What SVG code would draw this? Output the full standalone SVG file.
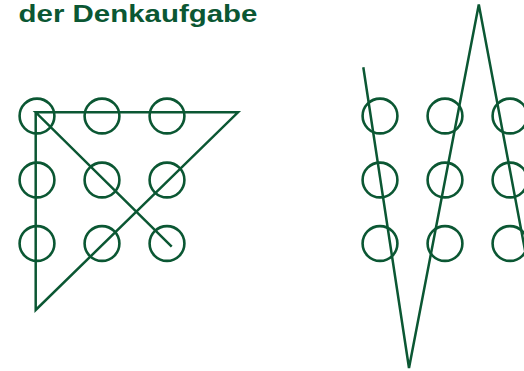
<svg xmlns="http://www.w3.org/2000/svg" width="524" height="371" viewBox="0 0 524 371">
  <style>
    .dot { fill: none; stroke: #0b5733; stroke-width: 2.6; }
    .line { fill: none; stroke: #0b5733; stroke-width: 2.5; stroke-linejoin: miter; stroke-linecap: butt; }
    .title { font-family: "Liberation Sans", Arial, sans-serif; font-weight: bold; font-size: 24.5px; fill: #0b5733; }
  </style>
  <rect width="524" height="371" fill="#ffffff"/>
  <text class="title" x="18.5" y="22.3" textLength="239" lengthAdjust="spacingAndGlyphs">der Denkaufgabe</text>

  <g id="left-puzzle">
    <g id="L11"><circle class="dot" cx="37" cy="116" r="17.4"/></g>
    <g id="L12"><circle class="dot" cx="102" cy="116" r="17.4"/></g>
    <g id="L13"><circle class="dot" cx="167" cy="116" r="17.4"/></g>
    <g id="L21"><circle class="dot" cx="37" cy="180" r="17.4"/></g>
    <g id="L22"><circle class="dot" cx="102" cy="180" r="17.4"/></g>
    <g id="L23"><circle class="dot" cx="167" cy="180" r="17.4"/></g>
    <g id="L31"><circle class="dot" cx="37" cy="243.5" r="17.4"/></g>
    <g id="L32"><circle class="dot" cx="102" cy="243.5" r="17.4"/></g>
    <g id="L33"><circle class="dot" cx="167" cy="243.5" r="17.4"/></g>
  </g>

  <g id="right-puzzle">
    <g id="R11"><circle class="dot" cx="380" cy="116" r="17.4"/></g>
    <g id="R12"><circle class="dot" cx="445" cy="116" r="17.4"/></g>
    <g id="R13"><circle class="dot" cx="510" cy="116" r="17.4"/></g>
    <g id="R21"><circle class="dot" cx="380" cy="180" r="17.4"/></g>
    <g id="R22"><circle class="dot" cx="445" cy="180" r="17.4"/></g>
    <g id="R23"><circle class="dot" cx="510" cy="180" r="17.4"/></g>
    <g id="R31"><circle class="dot" cx="380" cy="243.5" r="17.4"/></g>
    <g id="R32"><circle class="dot" cx="445" cy="243.5" r="17.4"/></g>
    <g id="R33"><circle class="dot" cx="510" cy="243.5" r="17.4"/></g>
  </g>

  <g id="connectors">
    <path class="line" d="M171.7,246.7 L35.7,112.3 L238,112.3 L35.7,310 L35.7,112.3"/>
    <path class="line" d="M363.3,67.3 L409,368 L478.8,4.5 L540,330"/>
  </g>
</svg>
